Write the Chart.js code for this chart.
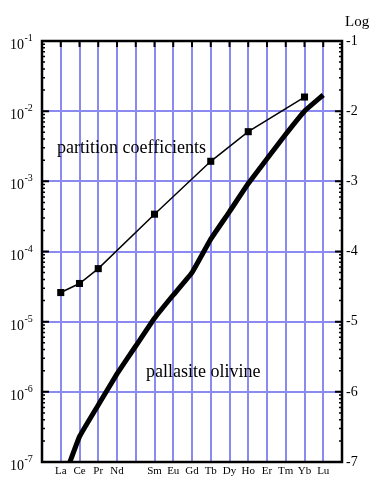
<!DOCTYPE html>
<html><head><meta charset="utf-8">
<script src="https://cdn.jsdelivr.net/npm/chart.js@4/dist/chart.umd.min.js"></script>
<style>html,body{margin:0;padding:0;background:#fff}canvas{display:block}</style>
</head><body>
<canvas id="c" width="374" height="477"></canvas>
<script>
// Element positions (atomic numbers) and labels (Pm unlabeled)
const atomicNumbers = [57,58,59,60,61,62,63,64,65,66,67,68,69,70,71];
const xLabels = ['La','Ce','Pr','Nd','','Sm','Eu','Gd','Tb','Dy','Ho','Er','Tm','Yb','Lu'];

// Series: partition coefficients (thin line with squares)
const partitionX = [57,58,59,62,65,67,70];
const partitionY = [2.6e-5,3.5e-5,5.7e-5,3.4e-4,1.93e-3,5.1e-3,1.59e-2];

// Series: pallasite olivine (thick line)
const olivineX = [57,58,59,60,61,62,63,64,65,66,67,68,69,70,71];
const olivineY = [4.4e-8,2.3e-7,6.5e-7,1.8e-6,4.5e-6,1.12e-5,2.4e-5,5.0e-5,1.5e-4,3.7e-4,9.3e-4,2.1e-3,4.7e-3,1.0e-2,1.7e-2];

// Tick labels
const leftExponents = ['-1','-2','-3','-4','-5','-6','-7'];
const leftValues = [1e-1,1e-2,1e-3,1e-4,1e-5,1e-6,1e-7];
const rightTickLabels = ['-1','-2','-3','-4','-5','-6','-7'];

const GRID = '#8a8af0';
const SERIF = '"Liberation Serif", "Times New Roman", serif';

function isDecade(v){ const e = Math.log10(v); return Math.abs(e - Math.round(e)) < 1e-6; }

const decor = {
  id: 'decor',
  afterDraw(chart){
    const ctx = chart.ctx, a = chart.chartArea;
    const x = chart.scales.x, y = chart.scales.y;
    ctx.save();
    // minor / major ticks left & right (inward)
    ctx.strokeStyle = '#000';
    for (let n = -7; n <= -1; n++){
      for (let k = 1; k <= 9; k++){
        const v = k * Math.pow(10, n);
        if (v > 0.1000001) break;
        const py = y.getPixelForValue(v);
        const len = k === 1 ? 7 : 3;
        ctx.lineWidth = k === 1 ? 2 : 1.5;
        ctx.beginPath();
        ctx.moveTo(a.left, py); ctx.lineTo(a.left + len, py);
        ctx.moveTo(a.right, py); ctx.lineTo(a.right - len, py);
        ctx.stroke();
      }
    }
    // top ticks
    ctx.lineWidth = 2;
    atomicNumbers.forEach(z => {
      const px = x.getPixelForValue(z);
      ctx.beginPath(); ctx.moveTo(px, a.top); ctx.lineTo(px, a.top + 6); ctx.stroke();
    });
    // frame
    ctx.lineWidth = 2.5;
    ctx.strokeRect(a.left, a.top, a.right - a.left, a.bottom - a.top);

    // left labels 10^n
    ctx.fillStyle = '#000';
    ctx.textBaseline = 'alphabetic';
    leftValues.forEach((v, i) => {
      const py = y.getPixelForValue(v);
      ctx.font = '14px ' + SERIF;
      ctx.textAlign = 'left';
      ctx.fillText('10', 10, py + 8);
      ctx.font = '10px ' + SERIF;
      ctx.fillText(leftExponents[i], 24.5, py);
    });
    // right labels
    ctx.font = '14px ' + SERIF;
    ctx.textBaseline = 'middle';
    leftValues.forEach((v, i) => {
      const py = y.getPixelForValue(v);
      ctx.fillText(rightTickLabels[i], 346, py);
    });
    ctx.font = '15px ' + SERIF;
    ctx.textBaseline = 'alphabetic';
    ctx.fillText('Log', 345, 26);

    // annotations
    ctx.font = '18px ' + SERIF;
    ctx.fillText('partition coefficients', 57, 153);
    ctx.fillText('pallasite olivine', 146, 377);
    ctx.restore();
  }
};

new Chart(document.getElementById('c'), {
  type: 'scatter',
  data: {
    datasets: [
      {
        label: 'partition coefficients',
        data: partitionX.map((z, i) => ({x: z, y: partitionY[i]})),
        showLine: true,
        borderColor: '#000',
        backgroundColor: '#000',
        borderWidth: 1.5,
        pointStyle: 'rect',
        pointRadius: 5,
        pointBorderWidth: 0,
        tension: 0,
        clip: 0
      },
      {
        label: 'pallasite olivine',
        data: olivineX.map((z, i) => ({x: z, y: olivineY[i]})),
        showLine: true,
        borderColor: '#000',
        borderWidth: 5,
        pointRadius: 0,
        tension: 0.1,
        borderJoinStyle: 'round',
        clip: 0
      }
    ]
  },
  options: {
    responsive: false,
    animation: false,
    devicePixelRatio: 1,
    layout: { padding: { top: 41, left: 0, right: 0, bottom: 0 } },
    plugins: { legend: { display: false }, tooltip: { enabled: false } },
    scales: {
      x: {
        type: 'linear', position: 'bottom', min: 56, max: 72,
        ticks: {
          stepSize: 1, autoSkip: false, maxRotation: 0, minRotation: 0,
          color: '#000', font: { family: SERIF, size: 11 }, padding: 3,
          callback: (v) => { const i = atomicNumbers.indexOf(v); return i >= 0 ? xLabels[i] : ''; }
        },
        grid: {
          drawTicks: false, lineWidth: 2,
          color: (c) => (c.tick && c.tick.value > 56 && c.tick.value < 72) ? GRID : 'rgba(0,0,0,0)'
        },
        border: { display: false },
        afterFit: (s) => { s.height = 15; }
      },
      y: {
        type: 'logarithmic', position: 'left', min: 1e-7, max: 1e-1,
        ticks: { display: false },
        grid: {
          drawTicks: false, lineWidth: 2,
          color: (c) => (c.tick && isDecade(c.tick.value) && c.tick.value > 1.01e-7 && c.tick.value < 0.099) ? GRID : 'rgba(0,0,0,0)'
        },
        border: { display: false },
        afterFit: (s) => { s.width = 42; }
      },
      yR: {
        type: 'logarithmic', position: 'right', min: 1e-7, max: 1e-1,
        ticks: { display: false },
        grid: { display: false, drawTicks: false },
        border: { display: false },
        afterFit: (s) => { s.width = 32; }
      }
    }
  },
  plugins: [decor]
});
</script>
</body></html>
